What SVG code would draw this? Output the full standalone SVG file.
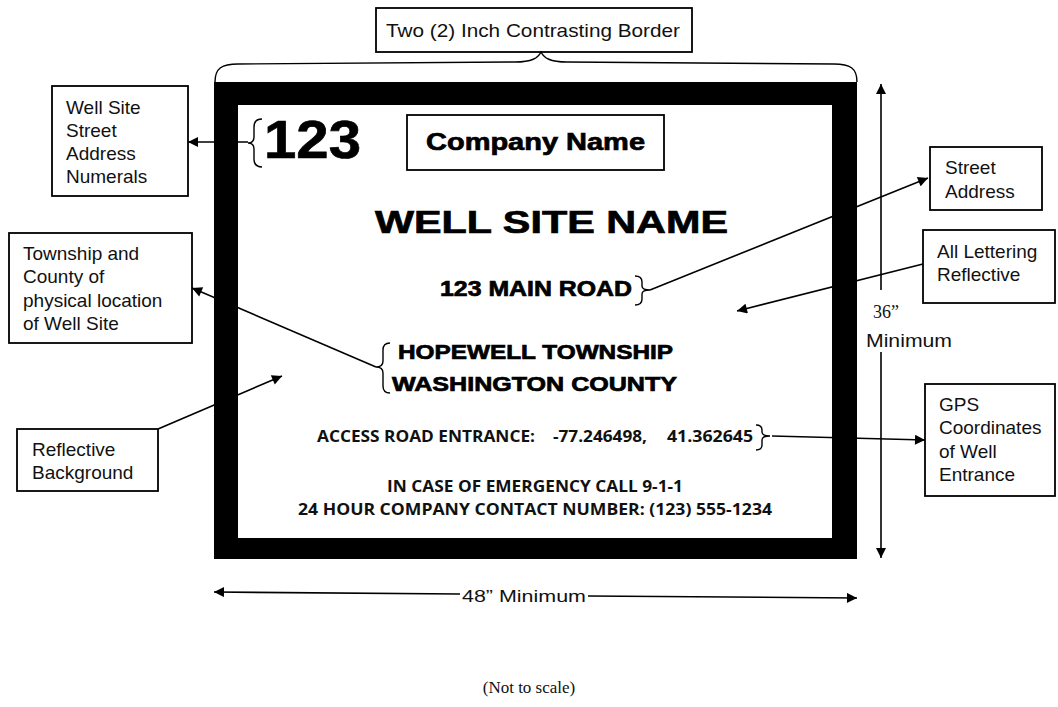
<svg xmlns="http://www.w3.org/2000/svg" width="1058" height="707" viewBox="0 0 1058 707">
<style>
.box{fill:#fff;stroke:#000;stroke-width:1.8}
.lbl{font-family:"Liberation Sans",Arial,sans-serif;font-size:19px;fill:#111}
.big{font-family:"Liberation Sans",Arial,sans-serif;font-weight:bold;fill:#000;stroke:#000;stroke-width:0.7}
.cal{font-family:"Open Sans","Liberation Sans",sans-serif;font-weight:bold;font-size:16px;fill:#111}
.ln{fill:none;stroke:#000;stroke-width:1.6}
.br{fill:none;stroke:#000;stroke-width:1.4}
</style>
<defs>
<marker id="ah" viewBox="0 0 10 10" refX="10" refY="5" markerWidth="12" markerHeight="10" markerUnits="userSpaceOnUse" orient="auto-start-reverse">
<path d="M0,0 L10,5 L0,10 Z" fill="#000"/>
</marker>
</defs>
<rect width="1058" height="707" fill="#fff"/>

<g id="sign">
<rect x="214" y="82" width="643" height="477" fill="#000"/>
<rect x="238" y="105" width="594" height="433" fill="#fff"/>
</g>

<g id="border-label">
<rect class="box" x="376" y="8" width="316" height="44"/>
<text class="lbl" x="386" y="37" textLength="294" lengthAdjust="spacingAndGlyphs">Two (2) Inch Contrasting Border</text>
<path class="br" d="M215,82 C215,68 222,64 238,64 L515,62 C532,62 538,58 541,52 C544,58 550,62 567,62 L834,64 C850,64 857,68 857,82"/>
</g>

<g id="numerals">
<path class="br" d="M262,119 Q254,119 254,127 L254,137 Q254,143 248,143 Q254,143 254,149 L254,159 Q254,167 262,167"/>
<text class="big" x="264" y="158" font-size="54" textLength="97" lengthAdjust="spacingAndGlyphs">123</text>
</g>

<g id="company">
<rect class="box" x="407" y="115" width="257" height="55"/>
<text class="big" x="426" y="150" font-size="24" textLength="219" lengthAdjust="spacingAndGlyphs">Company Name</text>
</g>

<g id="wellsite">
<text class="big" x="375" y="233" font-size="32" textLength="353" lengthAdjust="spacingAndGlyphs">WELL SITE NAME</text>
</g>

<g id="road">
<text class="big" x="440" y="296" font-size="22" textLength="192" lengthAdjust="spacingAndGlyphs">123 MAIN ROAD</text>
<path class="br" d="M635,276 Q642,276 642,282 L642,286 Q642,290 650,290 Q642,290 642,294 L642,299 Q642,305 635,305"/>
</g>

<g id="township">
<path class="br" d="M390,343 Q383,343 383,350 L383,361 Q383,367 376,367 Q383,367 383,373 L383,386 Q383,393 390,393"/>
<text class="big" x="398" y="359" font-size="20" textLength="275" lengthAdjust="spacingAndGlyphs">HOPEWELL TOWNSHIP</text>
<text class="big" x="392" y="391" font-size="20" textLength="285" lengthAdjust="spacingAndGlyphs">WASHINGTON COUNTY</text>
</g>

<g id="access">
<text class="cal" x="317" y="442" textLength="218" lengthAdjust="spacingAndGlyphs">ACCESS ROAD ENTRANCE:</text>
<text class="cal" x="553" y="442" textLength="94" lengthAdjust="spacingAndGlyphs">-77.246498,</text>
<text class="cal" x="667" y="442" textLength="86" lengthAdjust="spacingAndGlyphs">41.362645</text>
<path class="br" d="M756,425 Q762,425 762,430 L762,432 Q762,436 770,436 Q762,436 762,440 L762,445 Q762,450 756,450"/>
</g>

<g id="emergency">
<text class="cal" x="387" y="492" textLength="296" lengthAdjust="spacingAndGlyphs">IN CASE OF EMERGENCY CALL 9-1-1</text>
<text class="cal" x="298" y="515" textLength="474" lengthAdjust="spacingAndGlyphs">24 HOUR COMPANY CONTACT NUMBER: (123) 555-1234</text>
</g>

<g id="lbl-numerals">
<rect class="box" x="52" y="86" width="136" height="110"/>
<text class="lbl" x="66" y="114">Well Site</text>
<text class="lbl" x="66" y="137">Street</text>
<text class="lbl" x="66" y="160">Address</text>
<text class="lbl" x="66" y="183">Numerals</text>
</g>

<g id="lbl-township">
<rect class="box" x="9" y="233" width="183" height="110"/>
<text class="lbl" x="23" y="260">Township and</text>
<text class="lbl" x="23" y="283">County of</text>
<text class="lbl" x="23" y="307">physical location</text>
<text class="lbl" x="23" y="330">of Well Site</text>
</g>

<g id="lbl-background">
<rect class="box" x="17" y="429" width="141" height="62"/>
<text class="lbl" x="32" y="456">Reflective</text>
<text class="lbl" x="32" y="479">Background</text>
</g>

<g id="lbl-street">
<rect class="box" x="930" y="147" width="112" height="63"/>
<text class="lbl" x="945" y="174">Street</text>
<text class="lbl" x="945" y="198">Address</text>
</g>

<g id="lbl-lettering">
<rect class="box" x="923" y="230" width="132" height="73"/>
<text class="lbl" x="937" y="258">All Lettering</text>
<text class="lbl" x="937" y="281">Reflective</text>
</g>

<g id="lbl-gps">
<rect class="box" x="925" y="384" width="130" height="112"/>
<text class="lbl" x="939" y="411">GPS</text>
<text class="lbl" x="939" y="434">Coordinates</text>
<text class="lbl" x="939" y="458">of Well</text>
<text class="lbl" x="939" y="481">Entrance</text>
</g>

<g id="dim-36">
<text x="873" y="318" font-family="Liberation Serif,serif" font-size="18" fill="#111">36”</text>
<text class="lbl" x="866" y="347" textLength="86" lengthAdjust="spacingAndGlyphs">Minimum</text>
</g>

<g id="dim-48">
<text class="lbl" x="462" y="602" style="font-size:17px" textLength="124" lengthAdjust="spacingAndGlyphs">48” Minimum</text>
</g>

<g id="note">
<text x="529" y="693" text-anchor="middle" font-family="Liberation Serif,serif" font-size="17" fill="#111">(Not to scale)</text>
</g>

<g id="connectors">
<line class="ln" x1="248" y1="142" x2="188" y2="142" marker-end="url(#ah)"/>
<line class="ln" x1="650" y1="290" x2="928" y2="178" marker-end="url(#ah)"/>
<line class="ln" x1="923" y1="264" x2="737" y2="311" marker-end="url(#ah)"/>
<line class="ln" x1="376" y1="367" x2="192" y2="288" marker-end="url(#ah)"/>
<line class="ln" x1="158" y1="429" x2="282" y2="376" marker-end="url(#ah)"/>
<line class="ln" x1="772" y1="436" x2="925" y2="440" marker-end="url(#ah)"/>
<line class="ln" x1="881" y1="290" x2="881" y2="84" marker-end="url(#ah)"/>
<line class="ln" x1="881" y1="352" x2="881" y2="558" marker-end="url(#ah)"/>
<line class="ln" x1="460" y1="594" x2="214" y2="592" marker-end="url(#ah)"/>
<line class="ln" x1="588" y1="596" x2="857" y2="598" marker-end="url(#ah)"/>
</g>
</svg>
